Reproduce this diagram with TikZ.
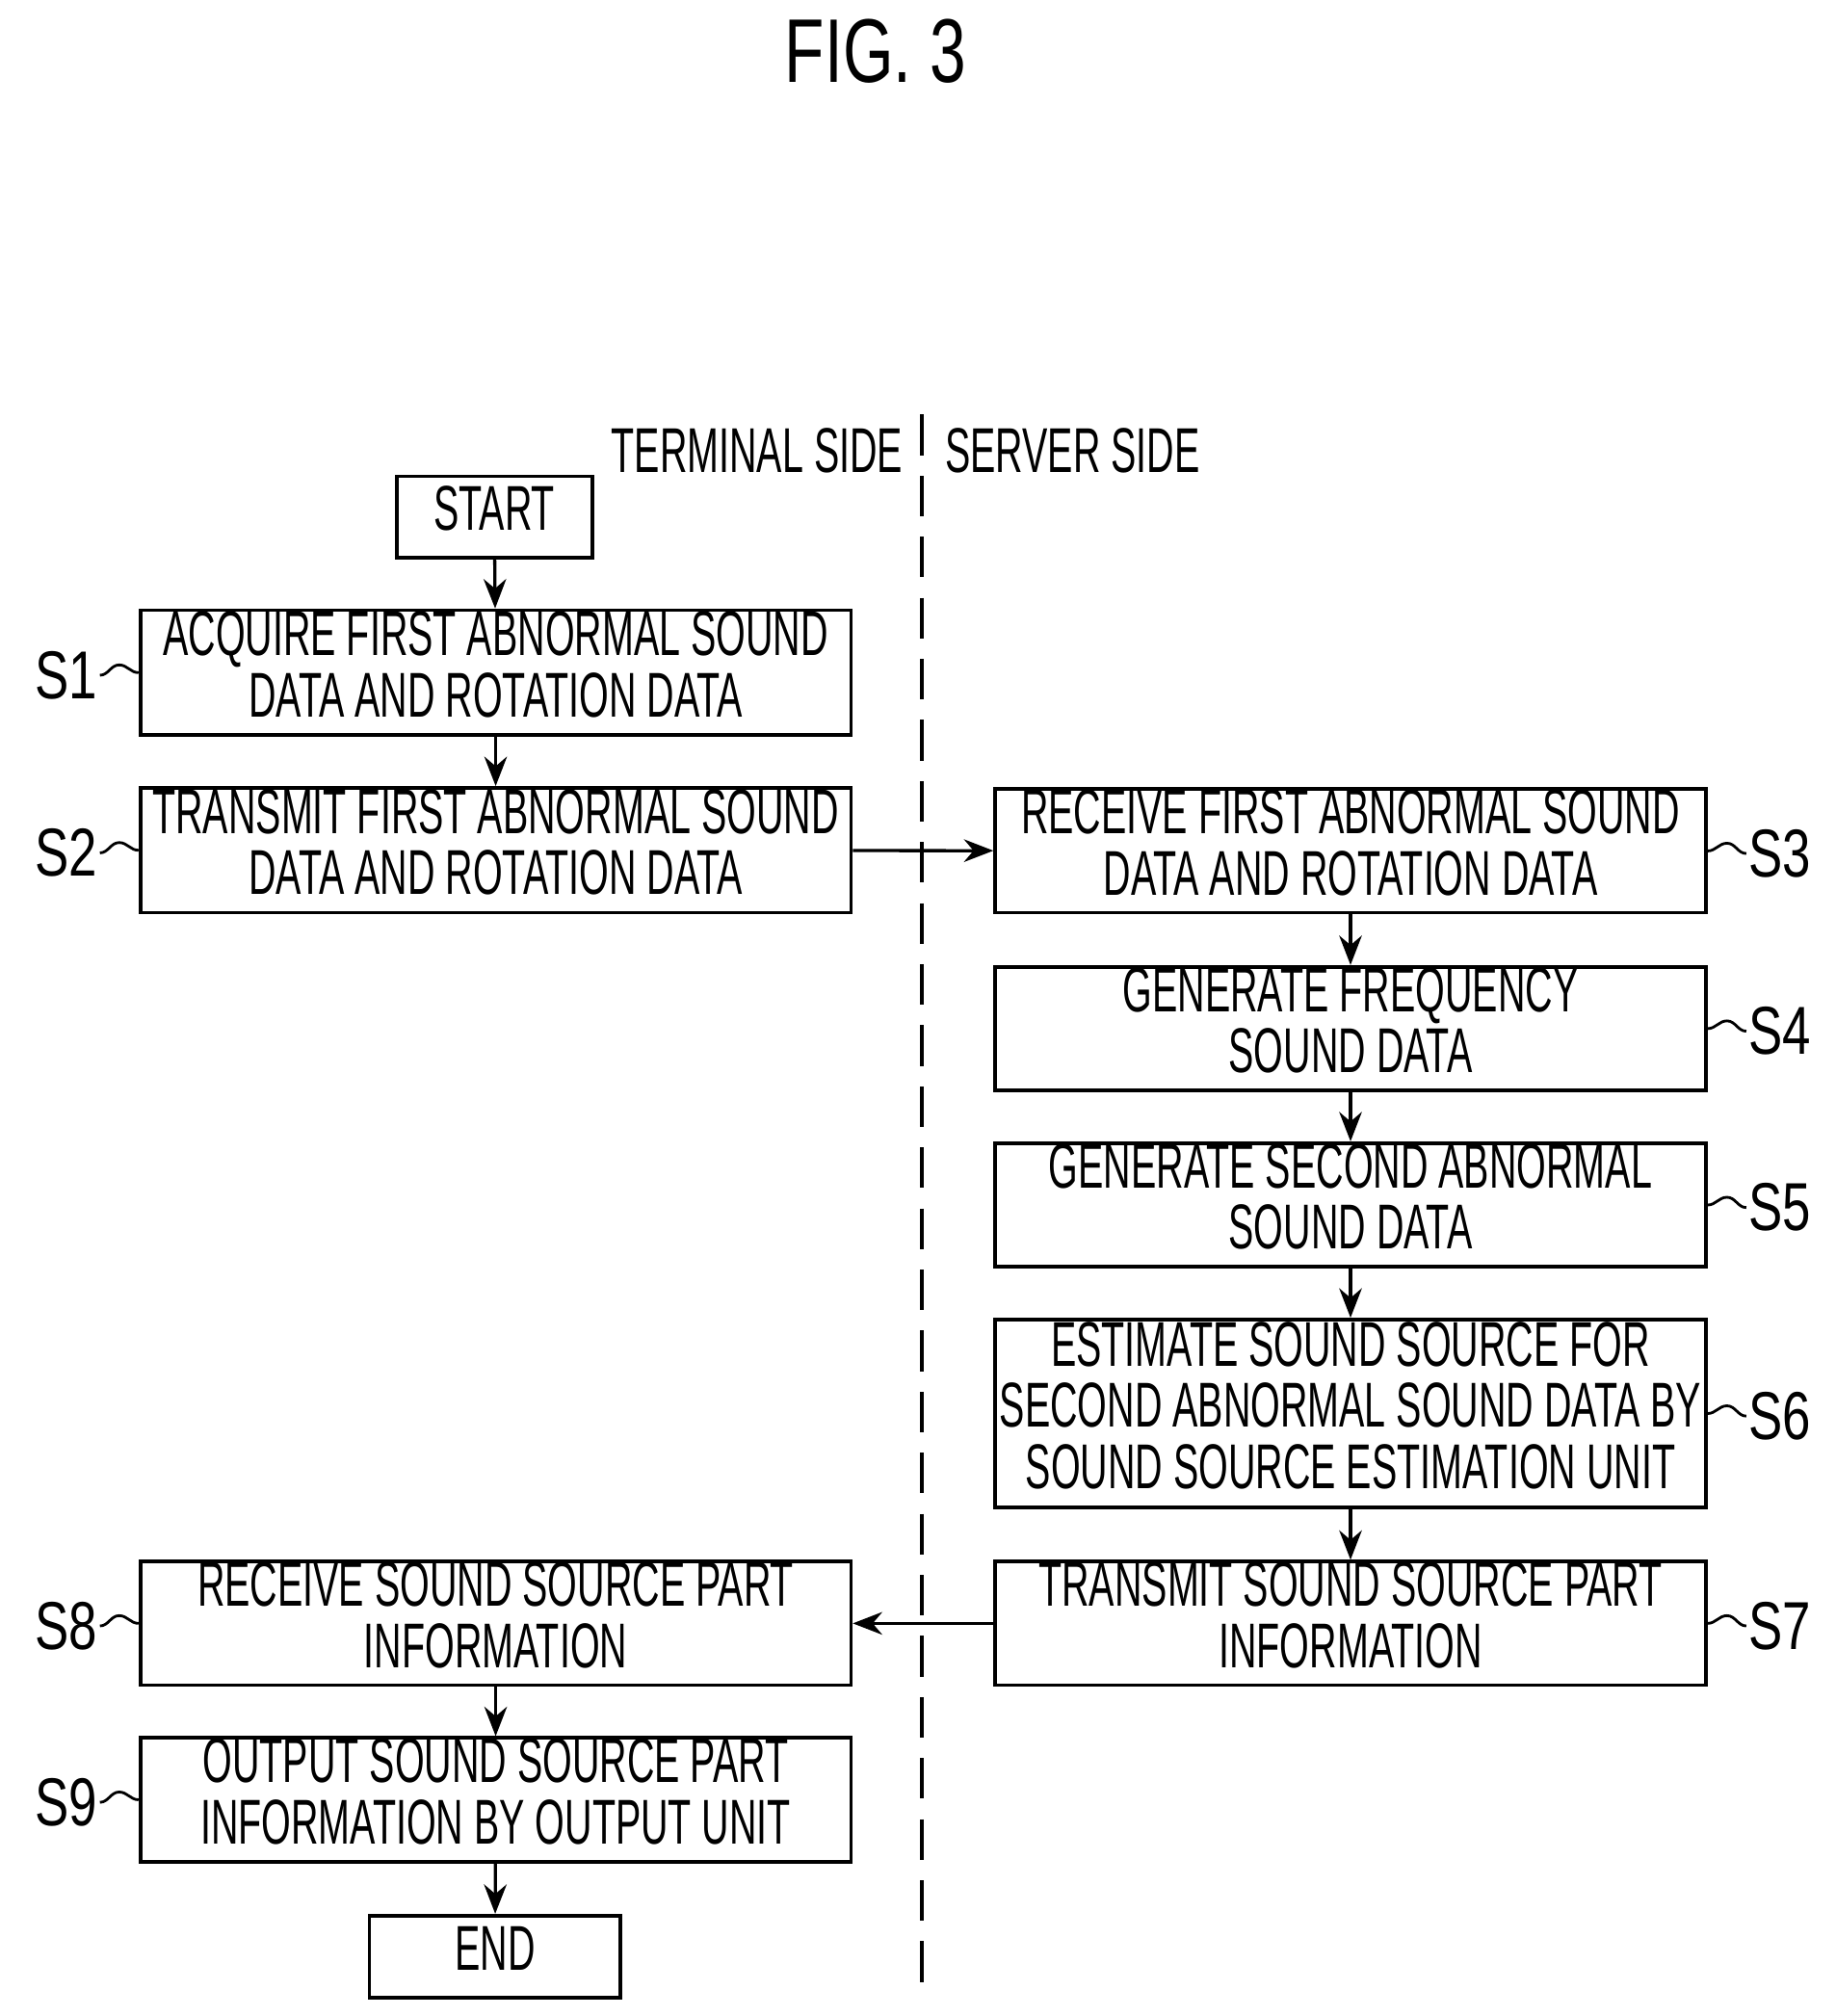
\documentclass[tikz,border=0pt]{standalone}
\usepackage{fontspec}
\usepackage{graphicx}
\setmainfont{Liberation Sans}
\usetikzlibrary{arrows.meta}
\newcommand{\Tx}[1]{\scalebox{0.6}[1]{\begin{tabular}{@{}c@{}}#1\end{tabular}}}
\begin{document}
\begin{tikzpicture}[x=0.02cm,y=-0.02cm,
  box/.style={draw,line width=1.6pt,inner sep=0pt,font=\fontsize{28}{25}\selectfont},
  arr/.style={line width=1.4pt,-{Stealth[length=13pt,width=10pt]}},
  lab/.style={font=\fontsize{30}{30}\selectfont,inner sep=1pt},
  wv/.style={line width=1.2pt}]
\useasboundingbox (0,0) rectangle (1426,1566);
\node[font=\fontsize{40}{40}\selectfont] (title) at (680,40) {\scalebox{0.72}[1]{FIG. 3}};
\node[font=\fontsize{28}{28}\selectfont] (term) at (588,350) {\scalebox{0.6}[1]{TERMINAL SIDE}};
\node[font=\fontsize{28}{28}\selectfont] (serv) at (833,350) {\scalebox{0.6}[1]{SERVER SIDE}};
\coordinate (dt) at (716,322); \coordinate (db) at (716,1540);
\draw[line width=1.6pt,dash pattern=on 18pt off 9pt] (dt) -- (db);
\node[box,minimum width=152*0.02cm,minimum height=63*0.02cm] (start) at (384,401.5) {\Tx{START}};
\node[box,minimum width=552*0.02cm,minimum height=97*0.02cm] (s1) at (385,522.5) {\Tx{ACQUIRE FIRST ABNORMAL SOUND\\DATA AND ROTATION DATA}};
\node[box,minimum width=552*0.02cm,minimum height=97*0.02cm] (s2) at (385,660.5) {\Tx{TRANSMIT FIRST ABNORMAL SOUND\\DATA AND ROTATION DATA}};
\node[box,minimum width=552*0.02cm,minimum height=96*0.02cm] (s3) at (1049,661) {\Tx{RECEIVE FIRST ABNORMAL SOUND\\DATA AND ROTATION DATA}};
\node[box,minimum width=552*0.02cm,minimum height=96*0.02cm] (s4) at (1049,799) {\Tx{GENERATE FREQUENCY\\SOUND DATA}};
\node[box,minimum width=552*0.02cm,minimum height=96*0.02cm] (s5) at (1049,936) {\Tx{GENERATE SECOND ABNORMAL\\SOUND DATA}};
\node[box,minimum width=552*0.02cm,minimum height=146*0.02cm] (s6) at (1049,1098) {\Tx{ESTIMATE SOUND SOURCE FOR\\SECOND ABNORMAL SOUND DATA BY\\SOUND SOURCE ESTIMATION UNIT}};
\node[box,minimum width=552*0.02cm,minimum height=96*0.02cm] (s7) at (1049,1261) {\Tx{TRANSMIT SOUND SOURCE PART\\INFORMATION}};
\node[box,minimum width=552*0.02cm,minimum height=96*0.02cm] (s8) at (385,1261) {\Tx{RECEIVE SOUND SOURCE PART\\INFORMATION}};
\node[box,minimum width=552*0.02cm,minimum height=96*0.02cm] (s9) at (385,1398) {\Tx{OUTPUT SOUND SOURCE PART\\INFORMATION BY OUTPUT UNIT}};
\node[box,minimum width=195*0.02cm,minimum height=64*0.02cm] (end) at (384.5,1520) {\Tx{END}};
\draw[arr] (start) -- (s1);
\draw[arr] (s1) -- (s2);
\draw[arr] (s2) -- (s3);
\draw[arr] (s3) -- (s4);
\draw[arr] (s4) -- (s5);
\draw[arr] (s5) -- (s6);
\draw[arr] (s6) -- (s7);
\draw[arr] (s7) -- (s8);
\draw[arr] (s8) -- (s9);
\draw[arr] (s9) -- (end);
\foreach \b/\t in {s1/S1,s2/S2,s8/S8,s9/S9}{
  \draw[wv] (\b.west) to[out=180,in=0] ++(-15,-6) to[out=180,in=0] ++(-15,8) coordinate (w\b);
  \node[lab,anchor=east] (l\b) at (w\b) {\scalebox{0.75}[1]{\t}};
}
\foreach \b/\t in {s3/S3,s4/S4,s5/S5,s6/S6,s7/S7}{
  \draw[wv] (\b.east) to[out=0,in=180] ++(15,-6) to[out=0,in=180] ++(15,8) coordinate (w\b);
  \node[lab,anchor=west] (l\b) at (w\b) {\scalebox{0.75}[1]{\t}};
}
\end{tikzpicture}
\end{document}
